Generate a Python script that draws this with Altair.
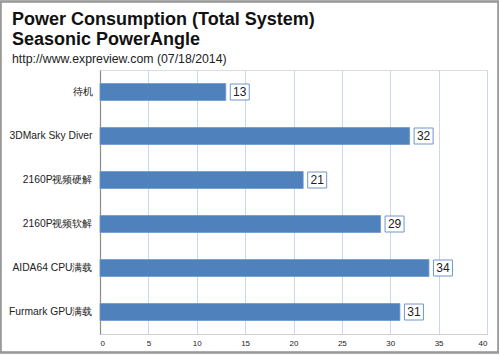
import altair as alt
import pandas as pd

categories = ["待机", "3DMark Sky Diver", "2160P视频硬解", "2160P视频软解", "AIDA64  CPU满载", "Furmark GPU满载"]
values = [13, 32, 21, 29, 34, 31]
x_ticks = [0, 5, 10, 15, 20, 25, 30, 35, 40]
title_lines = ["Power Consumption (Total System)", "Seasonic PowerAngle"]
subtitle_text = "http://www.expreview.com (07/18/2014)"

df = pd.DataFrame({"cat": categories, "val": values})
tdf = pd.DataFrame({"t": title_lines})
sdf = pd.DataFrame({"t": [subtitle_text]})

W, H = 387, 264
FONT = "Liberation Sans"

x_enc = alt.X("val:Q", scale=alt.Scale(domain=[0, 40], nice=False, zero=True),
              axis=alt.Axis(values=x_ticks, title=None, grid=True, gridColor="#C9D7F0",
                            gridWidth=1, domain=True, domainColor="#D0D0D0", ticks=False,
                            labelFontSize=8, labelColor="#222", labelPadding=5, labelFont=FONT))
y_enc = alt.Y("cat:N", sort=categories, scale=alt.Scale(paddingInner=0, paddingOuter=0),
              axis=alt.Axis(title=None, ticks=False, domain=True, domainColor="#8C8C8C",
                            domainWidth=1.2, labelFontSize=10.3, labelColor="#222",
                            labelPadding=8, labelFont=FONT, grid=False))

bars = alt.Chart(df).mark_bar(height=17, color="#4F81BD", stroke="#6D98CC", strokeWidth=0.8).encode(
    x=x_enc, y=y_enc)

boxes = alt.Chart(df).mark_bar(height=16, fill="white", stroke="#6F96CB", strokeWidth=1,
                               xOffset=4.5, x2Offset=23.5).encode(
    x="val:Q", x2="val:Q", y=alt.Y("cat:N", sort=categories))

labels = alt.Chart(df).mark_text(dx=14, align="center", baseline="middle", fontSize=12,
                                 font=FONT, color="#222").encode(
    x="val:Q", y=alt.Y("cat:N", sort=categories), text="val:Q")

frame = alt.Chart(df).mark_rect(fill=None, stroke="#9A9A9A", strokeWidth=1.5).encode(
    x=alt.value(-99.5), x2=alt.value(W + 11.5), y=alt.value(-68.5), y2=alt.value(H + 18.5))

title1 = alt.Chart(tdf.iloc[[0]]).mark_text(align="left", baseline="alphabetic", font=FONT,
                                            fontSize=18, fontWeight="bold", color="#111").encode(
    x=alt.value(-88), y=alt.value(25 - 70), text="t:N")
title2 = alt.Chart(tdf.iloc[[1]]).mark_text(align="left", baseline="alphabetic", font=FONT,
                                            fontSize=18, fontWeight="bold", color="#111").encode(
    x=alt.value(-88), y=alt.value(45 - 70), text="t:N")
subtitle = alt.Chart(sdf).mark_text(align="left", baseline="alphabetic", font=FONT,
                                    fontSize=12.3, color="#222").encode(
    x=alt.value(-88), y=alt.value(63 - 70), text="t:N")

chart = alt.layer(frame, bars, boxes, labels, title1, title2, subtitle).properties(
    width=W, height=H,
    padding={"left": 100, "top": 70, "right": 12, "bottom": 21},
    autosize=alt.AutoSizeParams(type="none"),
).configure_view(stroke=None).configure(background="white")

chart.save("out.html", embed_options={"renderer": "svg", "actions": False})
